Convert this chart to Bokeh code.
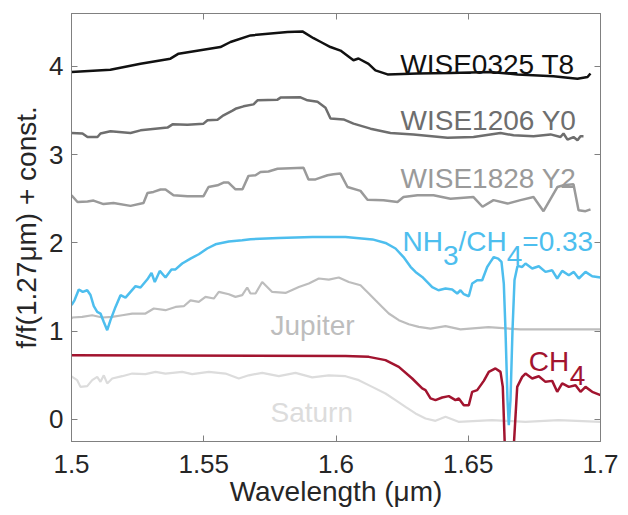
from bokeh.plotting import figure
from bokeh.models import FixedTicker, LinearAxis, Range1d
from bokeh.core.properties import value
from bokeh.embed import file_html
from bokeh.resources import INLINE

# ---------------- data ----------------
x_ticks = [1.5, 1.55, 1.6, 1.65, 1.7]
x_tick_labels = ["1.5", "1.55", "1.6", "1.65", "1.7"]
y_ticks = [0, 1, 2, 3, 4]
x_title = "Wavelength (\u03bcm)"
y_title = "f/f(1.27\u03bcm) + const."

# WISE0325 T8
t8_wl = [1.5000, 1.5147, 1.5261, 1.5374, 1.5405, 1.5563, 1.5601, 1.5677, 1.5817, 1.5873,
         1.5915, 1.5941, 1.5979, 1.6017, 1.6066, 1.6085, 1.6123, 1.6149, 1.6195, 1.6308,
         1.6433, 1.6584, 1.6686, 1.6822, 1.6913, 1.6951, 1.6962]
t8_f = [3.937, 3.963, 4.03, 4.088, 4.145, 4.22, 4.277, 4.352, 4.39, 4.397,
        4.32, 4.28, 4.22, 4.18, 4.07, 4.09, 4.03, 3.956, 3.91, 3.92,
        3.925, 3.937, 3.91, 3.888, 3.86, 3.88, 3.92]

# WISE1206 Y0
y0_wl = [1.5, 1.50416, 1.50605, 1.50983, 1.51096, 1.51474, 1.52231, 1.52609, 1.53629, 1.53819,
         1.54386, 1.54991, 1.55142, 1.5552, 1.55747, 1.56087, 1.562, 1.56503, 1.56881, 1.57032,
         1.57788, 1.57902, 1.58658, 1.58922, 1.59301, 1.59603, 1.59792, 1.60284, 1.60662, 1.61304,
         1.6206, 1.6293, 1.64216, 1.65198, 1.66219, 1.66711, 1.67467, 1.6811, 1.68488, 1.68601,
         1.68752, 1.68979, 1.6913, 1.69244, 1.69357]
y0_f = [3.246, 3.24, 3.20, 3.20, 3.24, 3.265, 3.246, 3.276, 3.307, 3.344,
        3.34, 3.352, 3.39, 3.397, 3.446, 3.50, 3.52, 3.548, 3.57, 3.616,
        3.624, 3.647, 3.65, 3.616, 3.60, 3.533, 3.41, 3.40, 3.352, 3.295,
        3.246, 3.23, 3.193, 3.20, 3.246, 3.22, 3.21, 3.23, 3.20, 3.24,
        3.17, 3.20, 3.163, 3.21, 3.21]

# WISE1828 Y2
y2_wl = [1.5, 1.50227, 1.50605, 1.50832, 1.5121, 1.51588, 1.52231, 1.52722, 1.52873, 1.531,
         1.53365, 1.53554, 1.53856, 1.54386, 1.54991, 1.5518, 1.5552, 1.55747, 1.55936, 1.562,
         1.56465, 1.56692, 1.56957, 1.57146, 1.57448, 1.57788, 1.58771, 1.5896, 1.59225, 1.59414,
         1.59679, 1.59905, 1.6017, 1.60435, 1.60926, 1.61191, 1.61796, 1.62325, 1.62552, 1.63081,
         1.63686, 1.64329, 1.65198, 1.65539, 1.65955, 1.66484, 1.66975, 1.67467, 1.67845, 1.68374,
         1.68601, 1.68979, 1.6917, 1.69433, 1.69622]
y2_f = [2.54, 2.464, 2.47, 2.48, 2.44, 2.453, 2.42, 2.453, 2.566, 2.578,
        2.605, 2.605, 2.54, 2.53, 2.53, 2.634, 2.653, 2.684, 2.684, 2.608,
        2.608, 2.76, 2.767, 2.804, 2.81, 2.84, 2.853, 2.72, 2.72, 2.74,
        2.767, 2.778, 2.786, 2.634, 2.59, 2.49, 2.485, 2.465, 2.52, 2.54,
        2.54, 2.50, 2.52, 2.41, 2.485, 2.446, 2.485, 2.52, 2.36, 2.634,
        2.653, 2.664, 2.37, 2.36, 2.38]

# NH3/CH4 = 0.33 model
nh3_wl = [1.5, 1.50026, 1.50113, 1.50276, 1.50427, 1.50594, 1.50718, 1.50843, 1.50972, 1.51096,
          1.51221, 1.5135, 1.51474, 1.51664, 1.51853, 1.52042, 1.52231, 1.5242, 1.52609, 1.52862,
          1.53025, 1.53149, 1.53338, 1.53554, 1.5378, 1.53932, 1.54185, 1.54499, 1.54813, 1.5513,
          1.55444, 1.55947, 1.56454, 1.56767, 1.57826, 1.59112, 1.60359, 1.6138, 1.61871, 1.6225,
          1.62552, 1.62817, 1.63006, 1.63259, 1.63509, 1.63637, 1.63875, 1.6414, 1.64393, 1.64582,
          1.64707, 1.64832, 1.65021, 1.65149, 1.65338, 1.65527, 1.65716, 1.65841, 1.65966, 1.66132,
          1.66257, 1.66344, 1.66408, 1.66484, 1.66533, 1.66597, 1.66673, 1.66749, 1.66862, 1.6704,
          1.67164, 1.67418, 1.67667, 1.6792, 1.68174, 1.68363, 1.68552, 1.68802, 1.68991, 1.6918,
          1.69433, 1.69686, 1.7]
nh3_f = [1.30, 1.306, 1.35, 1.472, 1.445, 1.464, 1.41, 1.283, 1.219, 1.20,
         1.105, 1.011, 1.125, 1.275, 1.408, 1.38, 1.445, 1.51, 1.495, 1.585,
         1.66, 1.558, 1.683, 1.608, 1.70, 1.70, 1.767, 1.823, 1.872, 1.937,
         1.985, 2.016, 2.03, 2.042, 2.057, 2.068, 2.068, 2.04, 2.0, 1.937,
         1.84, 1.73, 1.672, 1.615, 1.54, 1.50, 1.464, 1.483, 1.472, 1.427,
         1.464, 1.419, 1.396, 1.54, 1.578, 1.578, 1.728, 1.785, 1.84, 1.823,
         1.785, 1.54, 1.01, 0.22, -0.065, 0.22, 1.01, 1.58, 1.74, 1.728,
         1.767, 1.71, 1.736, 1.672, 1.69, 1.597, 1.683, 1.634, 1.672, 1.597,
         1.672, 1.623, 1.608]

# Jupiter
jup_wl = [1.5, 1.50026, 1.50405, 1.50783, 1.51161, 1.51539, 1.51917, 1.52295, 1.52798, 1.53112,
          1.53554, 1.53932, 1.54246, 1.54499, 1.54813, 1.55066, 1.5538, 1.55569, 1.55947, 1.562,
          1.56454, 1.56643, 1.56767, 1.56957, 1.5721, 1.57588, 1.58091, 1.58594, 1.58972, 1.5935,
          1.59728, 1.60106, 1.60484, 1.60926, 1.6124, 1.61493, 1.61747, 1.61996, 1.62374, 1.62752,
          1.6313, 1.63573, 1.6414, 1.64707, 1.65766, 1.66975, 1.7]
jup_f = [1.14, 1.155, 1.162, 1.181, 1.155, 1.162, 1.181, 1.20, 1.20, 1.257,
         1.238, 1.275, 1.283, 1.35, 1.332, 1.389, 1.37, 1.445, 1.419, 1.389,
         1.408, 1.495, 1.427, 1.427, 1.558, 1.445, 1.434, 1.50, 1.54, 1.597,
         1.585, 1.608, 1.558, 1.52, 1.427, 1.35, 1.275, 1.20, 1.125, 1.079,
         1.049, 1.03, 1.057, 1.02, 1.045, 1.02, 1.02]

# CH4 model
ch4_wl = [1.5, 1.60359, 1.6124, 1.61871, 1.62374, 1.62881, 1.63259, 1.63384, 1.63573, 1.63762,
          1.64015, 1.64265, 1.64518, 1.64643, 1.64832, 1.65021, 1.65149, 1.65338, 1.65588, 1.65777,
          1.6603, 1.66219, 1.66306, 1.66382, 1.66541, 1.66722, 1.66851, 1.6704, 1.67164, 1.67418,
          1.67667, 1.6792, 1.68174, 1.68363, 1.68552, 1.68802, 1.69055, 1.69244, 1.69433, 1.69686,
          1.7]
ch4_f = [0.728, 0.72, 0.709, 0.672, 0.596, 0.464, 0.351, 0.332, 0.238, 0.219,
         0.249, 0.264, 0.219, 0.238, 0.162, 0.162, 0.313, 0.332, 0.437, 0.539,
         0.578, 0.539, 0.369, -0.3, -0.9, -0.3, 0.369, 0.482, 0.52, 0.464,
         0.49, 0.426, 0.437, 0.313, 0.408, 0.369, 0.388, 0.313, 0.369, 0.313,
         0.275]

# Saturn
sat_wl = [1.5, 1.50026, 1.50215, 1.5034, 1.50594, 1.50783, 1.50972, 1.51096, 1.51221, 1.5135,
          1.51539, 1.51917, 1.52295, 1.52798, 1.53176, 1.53554, 1.54185, 1.54563, 1.55191, 1.55822,
          1.56325, 1.56703, 1.5721, 1.57837, 1.58469, 1.591, 1.59728, 1.60359, 1.60862, 1.61369,
          1.61871, 1.6225, 1.62628, 1.63006, 1.63384, 1.63762, 1.6414, 1.64631, 1.65905, 1.67164,
          1.68412, 1.7]
sat_f = [0.49, 0.482, 0.445, 0.369, 0.377, 0.445, 0.482, 0.426, 0.50, 0.408,
         0.464, 0.49, 0.52, 0.513, 0.539, 0.52, 0.539, 0.513, 0.539, 0.52,
         0.464, 0.50, 0.528, 0.49, 0.528, 0.476, 0.50, 0.49, 0.445, 0.369,
         0.294, 0.219, 0.143, 0.068, 0.011, -0.016, 0.03, -0.027, -0.008, -0.027,
         -0.008, -0.027]

# colours
c_t8 = "#111111"
c_y0 = "#6e6e6e"
c_y2 = "#9a9a9a"
c_nh3 = "#4DBEEE"
c_jup = "#bdbdbd"
c_ch4 = "#A2142F"
c_sat = "#dcdcdc"

FONT = "Liberation Sans"
AX_COL = "#808080"
TXT_COL = "#262626"

# ---------------- figure ----------------
p = figure(width=628, height=515, output_backend="svg", toolbar_location=None,
           x_range=Range1d(1.5, 1.7), y_range=Range1d(-0.25, 4.6),
           min_border_left=71, min_border_right=28, min_border_top=13, min_border_bottom=74)
p.xgrid.visible = False
p.ygrid.visible = False
p.outline_line_color = AX_COL
p.outline_line_width = 1
p.background_fill_color = "white"
p.border_fill_color = "white"


def style_axis(ax, ticks, labels=True):
    ax.ticker = FixedTicker(ticks=ticks)
    ax.axis_line_color = AX_COL
    ax.major_tick_line_color = AX_COL
    ax.major_tick_in = 6
    ax.major_tick_out = 0
    ax.minor_tick_line_color = None
    ax.major_label_text_font = FONT
    ax.major_label_text_color = TXT_COL
    ax.axis_label_text_font = FONT
    ax.axis_label_text_color = TXT_COL
    ax.axis_label_text_font_style = "normal"
    if labels:
        ax.major_label_text_font_size = "26px"
        ax.axis_label_text_font_size = "28px"
    else:
        ax.major_label_text_font_size = "1px"
        ax.major_label_text_color = None
        ax.major_label_standoff = 0


xa = p.xaxis[0]
style_axis(xa, x_ticks)
xa.major_label_overrides = {t: l for t, l in zip(x_ticks, x_tick_labels)}
xa.major_label_standoff = 13
xa.axis_label = x_title
xa.axis_label_standoff = 0

ya = p.yaxis[0]
style_axis(ya, y_ticks)
ya.major_label_standoff = 8
ya.axis_label = y_title
ya.axis_label_standoff = 4

top = LinearAxis()
style_axis(top, x_ticks, labels=False)
p.add_layout(top, "above")
right = LinearAxis()
style_axis(right, y_ticks, labels=False)
p.add_layout(right, "right")

# ---------------- lines ----------------
p.line(sat_wl, sat_f, line_color=c_sat, line_width=2.2)
p.line(jup_wl, jup_f, line_color=c_jup, line_width=2.2)
p.line(ch4_wl, ch4_f, line_color=c_ch4, line_width=2.5)
p.line(nh3_wl, nh3_f, line_color=c_nh3, line_width=2.5)
p.line(y2_wl, y2_f, line_color=c_y2, line_width=2.5)
p.line(y0_wl, y0_f, line_color=c_y0, line_width=2.5)
p.line(t8_wl, t8_f, line_color=c_t8, line_width=2.5)

# ---------------- labels ----------------


def put(x, y, s, color, align="left", dx=0, size="28px"):
    p.text(x=[x], y=[y], text=[s], text_color=color, text_font=value(FONT),
           text_font_size=size, text_align=align, text_baseline="alphabetic", x_offset=dx)


put(1.6902, 4.024, "WISE0325 T8", c_t8, align="right")
put(1.6909, 3.39, "WISE1206 Y0", c_y0, align="right")
put(1.6909, 2.729, "WISE1828 Y2", c_y2, align="right")

# NH3/CH4=0.33 with subscripts
nx = 1.62514
put(nx, 2.015, "NH", c_nh3, dx=0)
put(nx, 1.861, "3", c_nh3, dx=40.4)
put(nx, 2.015, "/CH", c_nh3, dx=56.0)
put(nx, 1.861, "4", c_nh3, dx=104.2)
put(nx, 2.015, "=0.33", c_nh3, dx=119.8)

put(1.57524, 1.07, "Jupiter", c_jup)
put(1.57524, 0.08, "Saturn", c_sat)

cx = 1.67289
put(cx, 0.652, "CH", c_ch4)
put(cx, 0.495, "4", c_ch4, dx=41.0)

open("out.html", "w").write(file_html(p, INLINE))
